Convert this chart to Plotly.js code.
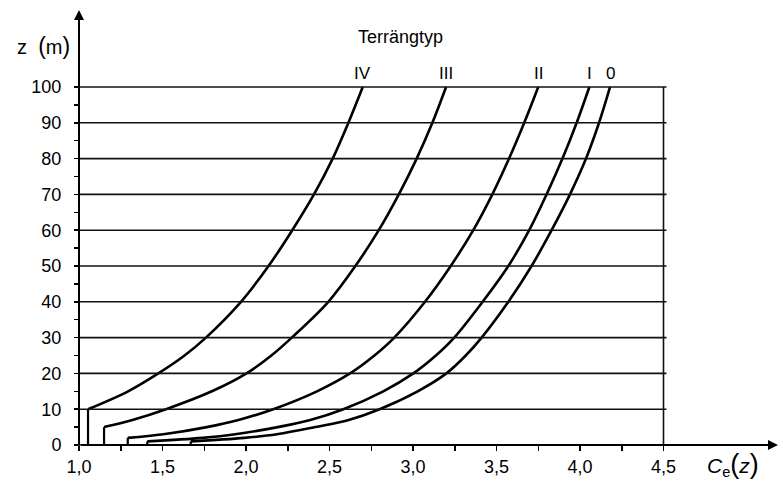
<!DOCTYPE html>
<html>
<head>
<meta charset="utf-8">
<script src="https://cdn.plot.ly/plotly-3.0.1.min.js"></script>
<style>html,body{margin:0;padding:0;background:#fff;}#chart{width:783px;height:482px;}</style>
</head>
<body>
<div id="chart"></div>
<script>
// Terrain types and read-off values of ce(z)
const terrainNames = ['IV', 'III', 'II', 'I', '0'];
const zIV  = [10, 15, 20, 25, 30, 40, 50, 60, 70, 80, 90, 100];
const ceIV = [1.054, 1.294, 1.475, 1.632, 1.760, 1.970, 2.135, 2.277, 2.407, 2.519, 2.613, 2.699];
const zIII  = [5, 7, 10, 15, 20, 25, 30, 40, 50, 60, 70, 80, 90, 100];
const ceIII = [1.150, 1.320, 1.521, 1.796, 2.003, 2.152, 2.274, 2.493, 2.655, 2.795, 2.915, 3.022, 3.116, 3.198];
const zII  = [2, 3, 5, 7, 10, 15, 20, 25, 30, 40, 50, 60, 70, 80, 90, 100];
const ceII = [1.292, 1.505, 1.765, 1.955, 2.163, 2.425, 2.623, 2.769, 2.888, 3.072, 3.226, 3.361, 3.475, 3.575, 3.666, 3.750];
const zI  = [1, 2, 3, 5, 7, 10, 15, 20, 25, 30, 40, 50, 60, 70, 80, 90, 100];
const ceI = [1.409, 1.740, 1.935, 2.190, 2.385, 2.583, 2.822, 3.002, 3.137, 3.247, 3.417, 3.571, 3.696, 3.800, 3.895, 3.980, 4.056];
const z0  = [1, 2, 3, 5, 7, 10, 15, 20, 25, 30, 40, 50, 60, 70, 80, 90, 100];
const ce0 = [1.669, 1.990, 2.185, 2.415, 2.615, 2.800, 3.028, 3.200, 3.316, 3.411, 3.571, 3.710, 3.830, 3.940, 4.036, 4.114, 4.180];

const xTickVals = [1, 1.25, 1.5, 1.75, 2, 2.25, 2.5, 2.75, 3, 3.25, 3.5, 3.75, 4, 4.25, 4.5];
const xTickText = ['1,0', '', '1,5', '', '2,0', '', '2,5', '', '3,0', '', '3,5', '', '4,0', '', '4,5'];
const yTickVals = [0, 5, 10, 15, 20, 25, 30, 35, 40, 45, 50, 55, 60, 65, 70, 75, 80, 85, 90, 95, 100];
const yTickText = ['0', '', '10', '', '20', '', '30', '', '40', '', '50', '', '60', '', '70', '', '80', '', '90', '', '100'];
const yGrid = [0, 10, 20, 30, 40, 50, 60, 70, 80, 90, 100];

const seriesZ = [zIV, zIII, zII, zI, z0];
const seriesCe = [ceIV, ceIII, ceII, ceI, ce0];

const FONT = 'Liberation Sans, Arial, sans-serif';
const W = 783, H = 482, L = 79, R = 5, T = 10, B = 37;
const px = v => (v - L) / (W - L - R);
const py = v => (H - B - v) / (H - T - B);

const traces = [];
const annotations = [];
seriesZ.forEach((zs, i) => {
  const ces = seriesCe[i];
  traces.push({x: ces, y: zs, mode: 'lines', line: {color: '#000', width: 2.6, shape: 'spline', smoothing: 1}, hoverinfo: 'skip', showlegend: false});
  traces.push({x: [ces[0], ces[0]], y: [0, zs[0]], mode: 'lines', line: {color: '#000', width: 2.2}, hoverinfo: 'skip', showlegend: false});
  annotations.push({x: ces[ces.length - 1], y: zs[zs.length - 1], xref: 'x', yref: 'y', text: terrainNames[i], showarrow: false, xanchor: 'center', yanchor: 'bottom', yshift: 2, font: {family: FONT, size: 17, color: '#000'}});
});

const xMax = 1 + 699 / 167;
const yMax = 121.5;
const shapes = yGrid.map(v => ({type: 'line', xref: 'x', yref: 'y', x0: 1 - 6 / 167, x1: 4.5 + 3 / 167, y0: v, y1: v, line: {color: '#111', width: 1.6}}));
shapes.push({type: 'line', xref: 'x', yref: 'y', x0: 4.5, x1: 4.5, y0: 0, y1: 100, line: {color: '#111', width: 1.6}});

annotations.push({x: xMax, y: 0, ax: 1, ay: 0, xref: 'x', yref: 'y', axref: 'x', ayref: 'y', text: '', showarrow: true, arrowhead: 2, arrowsize: 1, arrowwidth: 2, arrowcolor: '#000'});
annotations.push({x: 1, y: yMax, ax: 1, ay: -0.6, xref: 'x', yref: 'y', axref: 'x', ayref: 'y', text: '', showarrow: true, arrowhead: 2, arrowsize: 1, arrowwidth: 2, arrowcolor: '#000'});
annotations.push({x: px(43), y: py(46), xref: 'paper', yref: 'paper', xanchor: 'center', yanchor: 'middle', text: 'z  <span style="font-size:23px">(</span>m<span style="font-size:23px">)</span>', showarrow: false, font: {family: FONT, size: 20, color: '#000'}});
annotations.push({x: px(400), y: py(37), xref: 'paper', yref: 'paper', xanchor: 'center', yanchor: 'middle', text: 'Terrängtyp', showarrow: false, font: {family: FONT, size: 18, color: '#000'}});
annotations.push({x: px(733), y: py(464), xref: 'paper', yref: 'paper', xanchor: 'center', yanchor: 'middle', text: '<i>C</i><sub>e</sub><span style="font-size:27px">(</span><i>z</i><span style="font-size:27px">)</span>', showarrow: false, font: {family: FONT, size: 21, color: '#000'}});

const layout = {
  width: W, height: H,
  margin: {l: L, r: R, t: T, b: B, pad: 0},
  paper_bgcolor: '#fff', plot_bgcolor: '#fff',
  showlegend: false,
  xaxis: {range: [1, xMax], showgrid: false, zeroline: false, showline: false,
    tickmode: 'array', tickvals: xTickVals, ticktext: xTickText,
    ticks: 'outside', ticklen: 5, tickwidth: 1.5, tickcolor: '#000',
    tickfont: {family: FONT, size: 18, color: '#000'}},
  yaxis: {range: [0, yMax], showgrid: false, zeroline: false, showline: false,
    tickmode: 'array', tickvals: yTickVals, ticktext: yTickText,
    ticks: 'outside', ticklen: 4, tickwidth: 1.5, tickcolor: '#000', ticklabelstandoff: 9,
    tickfont: {family: FONT, size: 18, color: '#000'}},
  shapes: shapes,
  annotations: annotations
};

Plotly.newPlot('chart', traces, layout, {displayModeBar: false, staticPlot: true});
</script>
</body>
</html>
